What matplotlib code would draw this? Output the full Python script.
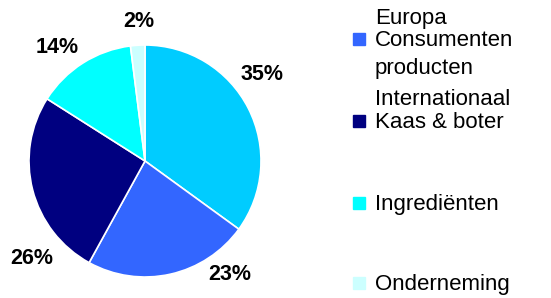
import matplotlib.pyplot as plt
from matplotlib.lines import Line2D

# slice shares (%), clockwise from 12 o'clock
shares = [35, 23, 26, 14, 2]
colors = ['#00CCFF', '#3366FF', '#000080', '#00FFFF', '#CCFFFF']
pct_labels = ['35%', '23%', '26%', '14%', '2%']
# label positions (pie radius = 1)
label_pos = [(1.01, 0.75), (0.73, -0.98), (-0.98, -0.84), (-0.76, 0.98), (-0.05, 1.20)]

# visible legend entries: colour, text lines, line that carries the marker
legend_colors = ['#3366FF', '#000080', '#00FFFF', '#CCFFFF']
legend_lines = [['Europa', 'Consumenten', 'producten'],
                ['Internationaal', 'Kaas & boter'],
                ['Ingrediënten'],
                ['Onderneming']]
legend_marker_line = [1, 1, 0, 0]
# text baselines in pixels from the top
legend_baselines = [[24, 46, 74], [105, 128], [210], [290]]

W, H = 551, 298
fig = plt.figure(figsize=(W / 100, H / 100), dpi=100)
ax = fig.add_axes([29 / W, 21 / H, 232 / W, 232 / H])

ax.pie(shares, colors=colors, startangle=90, counterclock=False,
       wedgeprops=dict(edgecolor='white', linewidth=1.2))
ax.set_xlim(-1, 1)
ax.set_ylim(-1, 1)

for txt, (x, y) in zip(pct_labels, label_pos):
    ax.text(x, y, txt, ha='center', va='center', fontsize=15.5,
            fontweight='bold', family='Liberation Sans', clip_on=False)

for c, lines, mi, bases in zip(legend_colors, legend_lines,
                               legend_marker_line, legend_baselines):
    for i, (line, b) in enumerate(zip(lines, bases)):
        fig.text(375 / W, 1 - b / H, line, ha='left', va='baseline',
                 fontsize=16, family='Liberation Sans')
        if i == mi:
            fig.add_artist(Line2D([359 / W], [1 - (b - 7) / H], marker='s',
                                  markersize=8, color=c, linestyle='none',
                                  transform=fig.transFigure))

fig.savefig('out.png', dpi=100)
